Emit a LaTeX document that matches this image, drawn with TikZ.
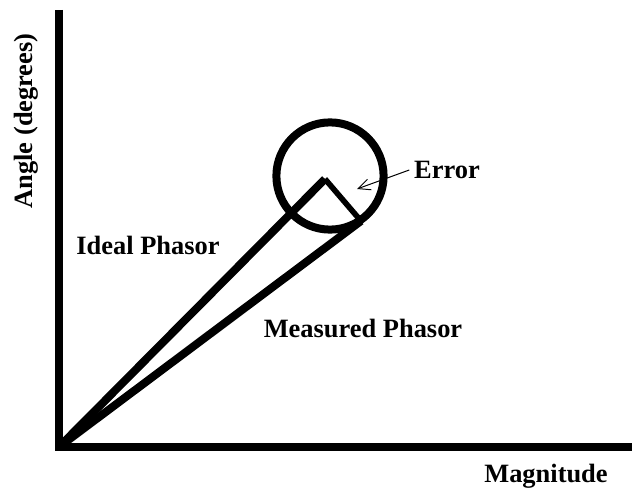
\documentclass[tikz,border=0pt]{standalone}
\usepackage{fontspec}
\setmainfont{Liberation Serif}
\usepackage{tikz}
\usetikzlibrary{arrows.meta,positioning}

\begin{document}
\begin{tikzpicture}[
  axis/.style={line width=0.2cm, line join=miter},
  phasor/.style={line width=0.2cm, line join=miter},
  err/.style={line width=0.14cm},
  lbl/.style={font=\fontsize{18.8}{22}\selectfont\bfseries},
  pointer/.style={-{Straight Barb[length=0.3cm, width=0.28cm]}, line width=0.7pt}
]
\useasboundingbox (-1.475,-1.15) rectangle (14.4,11.175);
% axes
\coordinate (O) at (0,0);
\coordinate (ytop) at (0,10.925);
\coordinate (xend) at (14.325,0);
\draw[axis] (ytop) -- (O) -- (xend);
% phasors and error circle
\coordinate (ideal) at (6.65,6.7);
\coordinate (meas) at (7.55,5.65);
\draw[phasor] (O) -- (ideal);
\draw[phasor] (O) -- (meas);
\draw[err] (ideal) -- (meas);
\node[draw, circle, line width=0.2cm, minimum size=2.68cm, inner sep=0pt] (circ) at (6.775,6.775) {};
% labels
\node[lbl, rotate=90] (ylab) at (-0.825,8.15) {Angle (degrees)};
\node[lbl] (xlab) at (12.175,-0.72) {Magnitude};
\node[lbl] (ideallab) at (2.225,5.05) {Ideal Phasor};
\node[lbl] (measlab) at (7.6,2.975) {Measured Phasor};
\node[lbl] (errlab) at (9.7,6.925) {Error};
\coordinate (errtip) at (7.45,6.45);
\draw[pointer] (errlab.west) -- (errtip);
\end{tikzpicture}
\end{document}
